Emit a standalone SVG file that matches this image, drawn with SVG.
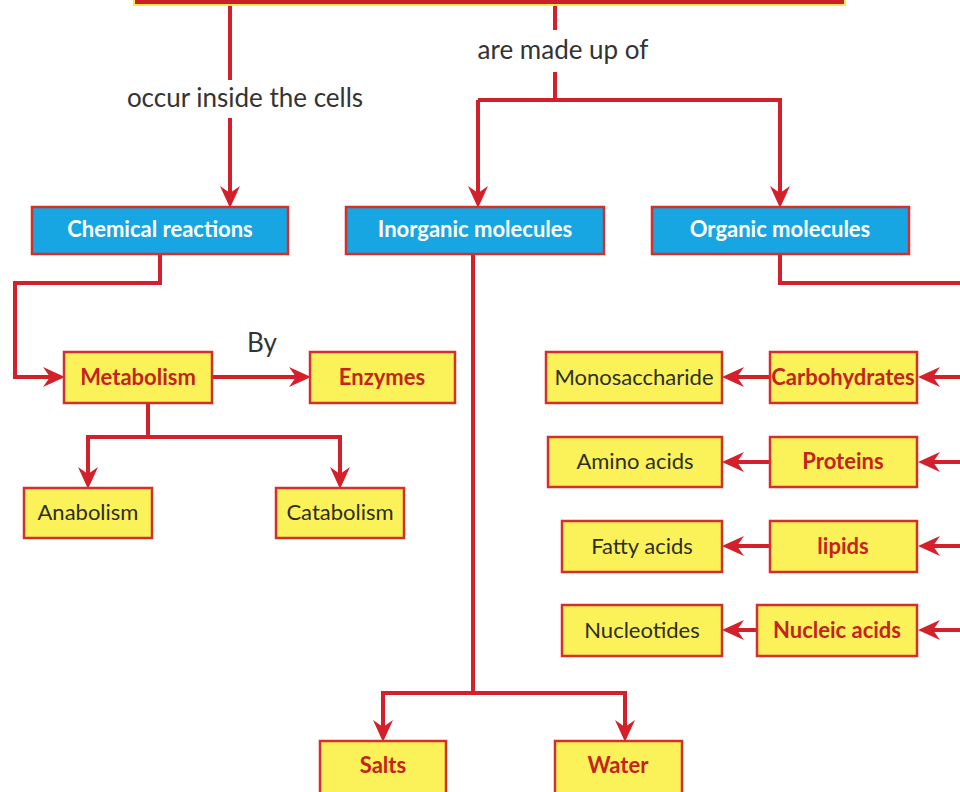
<svg xmlns="http://www.w3.org/2000/svg" width="960" height="792" viewBox="0 0 960 792">
<defs>
<marker id="ah" markerUnits="userSpaceOnUse" markerWidth="22" markerHeight="20" viewBox="0 -10 22 20" refX="7" refY="0" orient="auto">
<path d="M0,-10 L22,0 L0,10 L7,0 z" fill="#d3202b"/>
</marker>
<style>
.ln{fill:none;stroke:#d3202b;stroke-width:4;stroke-linejoin:miter}
.arr{marker-end:url(#ah)}
.blue rect{fill:#18a6e2;stroke:#d3302b;stroke-width:2.5}
.blue text{fill:#ffffff;font-family:Lato,"Open Sans",sans-serif;font-weight:bold;font-size:22px;text-anchor:middle}
.yel rect{fill:#fbf25a;stroke:#d3302b;stroke-width:2.5}
.yb text{fill:#c4241c;font-family:Lato,"Open Sans",sans-serif;font-weight:bold;font-size:22px;text-anchor:middle}
.yr text{fill:#2e2e22;font-family:Lato,"Open Sans",sans-serif;font-size:22px;text-anchor:middle}
.lbl{fill:#333333;font-family:Lato,"Open Sans",sans-serif;font-size:26px}
</style>
</defs>
<rect width="960" height="792" fill="#ffffff"/>
<g id="top">
<rect x="134" y="-30" width="711" height="35" fill="#cc1f2a" stroke="#fbe84a" stroke-width="2"/>
</g>
<g id="connectors">
<path class="ln" d="M230,6 V80"/>
<path class="ln arr" d="M230,118 V193"/>
<path class="ln" d="M555,6 V30"/>
<path class="ln" d="M555,72 V100 H478"/>
<path class="ln arr" d="M478,100 V193"/>
<path class="ln arr" d="M555,100 H780 V193"/>
<path class="ln arr" d="M160,254 V283 H15 V377 H50"/>
<path class="ln arr" d="M212,377 H296"/>
<path class="ln" d="M148,403 V437"/>
<path class="ln arr" d="M148,437 H88 V474"/>
<path class="ln arr" d="M148,437 H340 V474"/>
<path class="ln" d="M473,254 V693"/>
<path class="ln arr" d="M473,693 H383 V727"/>
<path class="ln arr" d="M473,693 H625 V727"/>
<path class="ln" d="M780,254 V283 H962"/>
<path class="ln arr" d="M962,377 H933"/>
<path class="ln arr" d="M962,462 H933"/>
<path class="ln arr" d="M962,546 H933"/>
<path class="ln arr" d="M962,630 H933"/>
<path class="ln arr" d="M770,377 H737"/>
<path class="ln arr" d="M770,462 H737"/>
<path class="ln arr" d="M770,546 H737"/>
<path class="ln arr" d="M757,630 H737"/>
</g>
<g id="labels">
<text class="lbl" x="245" y="107" text-anchor="middle">occur inside the cells</text>
<text class="lbl" x="563" y="59" text-anchor="middle">are made up of</text>
<text class="lbl" x="262" y="352" text-anchor="middle">By</text>
</g>
<g id="chemical-reactions" class="blue"><rect x="32" y="207" width="256" height="47"/><text x="160" y="237">Chemical reactions</text></g>
<g id="inorganic-molecules" class="blue"><rect x="346" y="207" width="258" height="47"/><text x="475" y="237">Inorganic molecules</text></g>
<g id="organic-molecules" class="blue"><rect x="652" y="207" width="257" height="47"/><text x="780" y="237">Organic molecules</text></g>
<g id="metabolism" class="yel yb"><rect x="64" y="352" width="148" height="51"/><text x="138" y="385">Metabolism</text></g>
<g id="enzymes" class="yel yb"><rect x="310" y="352" width="145" height="51"/><text x="382" y="385">Enzymes</text></g>
<g id="anabolism" class="yel yr"><rect x="24" y="488" width="128" height="50"/><text x="88" y="520">Anabolism</text></g>
<g id="catabolism" class="yel yr"><rect x="276" y="488" width="128" height="50"/><text x="340" y="520">Catabolism</text></g>
<g id="salts" class="yel yb"><rect x="320" y="741" width="126" height="60"/><text x="383" y="773">Salts</text></g>
<g id="water" class="yel yb"><rect x="555" y="741" width="127" height="60"/><text x="618" y="773">Water</text></g>
<g id="carbohydrates" class="yel yb"><rect x="770" y="352" width="147" height="51"/><text x="843" y="385">Carbohydrates</text></g>
<g id="proteins" class="yel yb"><rect x="770" y="437" width="147" height="50"/><text x="843" y="469">Proteins</text></g>
<g id="lipids" class="yel yb"><rect x="770" y="521" width="147" height="51"/><text x="843" y="554">lipids</text></g>
<g id="nucleic-acids" class="yel yb"><rect x="757" y="605" width="160" height="51"/><text x="837" y="638">Nucleic acids</text></g>
<g id="monosaccharide" class="yel yr"><rect x="546" y="352" width="176" height="51"/><text x="634" y="385">Monosaccharide</text></g>
<g id="amino-acids" class="yel yr"><rect x="548" y="437" width="174" height="50"/><text x="635" y="469">Amino acids</text></g>
<g id="fatty-acids" class="yel yr"><rect x="562" y="521" width="160" height="51"/><text x="642" y="554">Fatty acids</text></g>
<g id="nucleotides" class="yel yr"><rect x="562" y="605" width="160" height="51"/><text x="642" y="638">Nucleotides</text></g>
</svg>
